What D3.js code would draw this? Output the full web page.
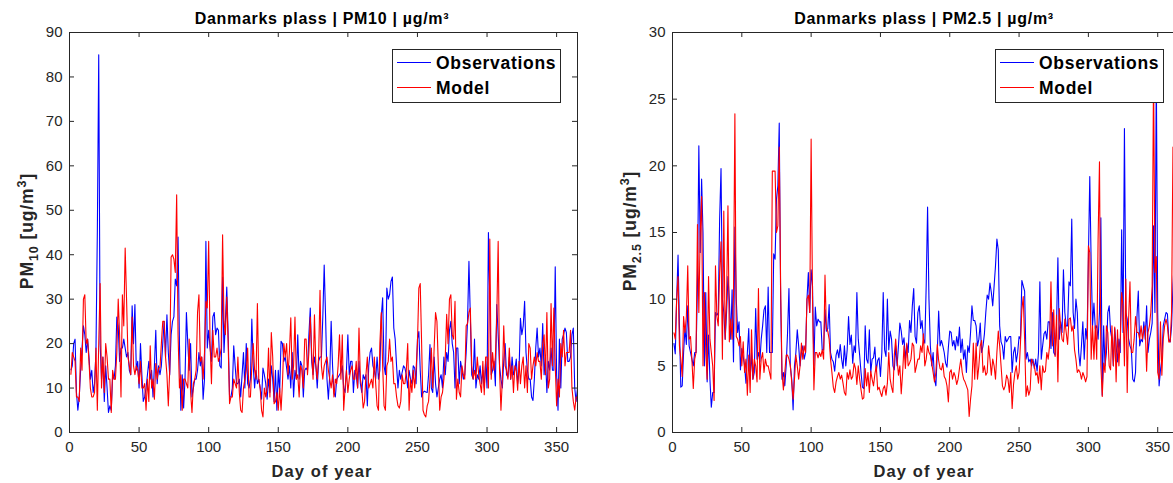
<!DOCTYPE html>
<html><head><meta charset="utf-8">
<script src="https://cdn.jsdelivr.net/npm/d3@7"></script>
<style>
body{margin:0;background:#fff;}
svg{display:block;font-family:"Liberation Sans",Arial,Helvetica,sans-serif;}
</style></head><body>
<svg id="chart" width="1173" height="483"></svg>
<script>
// ---------- data ----------
const xTicks = [0, 50, 100, 150, 200, 250, 300, 350];
const pm10Ticks = [0, 10, 20, 30, 40, 50, 60, 70, 80, 90];
const pm25Ticks = [0, 5, 10, 15, 20, 25, 30];
const seriesNames = ["Observations", "Model"];
const seriesColors = ["#0000ff", "#ff0000"];

const pm10Obs = [
14,15,20,21,9,5,8,14,19,24,
22,18,21,17,12,14,9,11,18,45,
85,20,12,17,7,15,10,4.5,6,5,
13,12,15,26,24,16,19,19,21,19,
17,18,14,13,28.5,20,28.8,14,16,10,
20,13,7,8,10,13,16,12,14,8,
15,23,11,15,13,15,20,25,17,26.5,
18,13,22,25,26,34.5,33,44,20,5,
13,5.5,12,27,20,14,20,8,10,12,
12,14,18,15,17,7.5,12,43,19,23,
19,16,26,27,22,23.5,23,15,14.5,35,
18,25,32.7,22,8,8,10,19.5,15,11,
11,12,8,13,18,10,20,11,10,12,
25.5,15,10,14,11,12,10,7.5,14.5,13,
11,7.5,12,9,15,12,7,14,5,14,
9,20.5,20,16,17,14.5,12,15,10,18,
8,14,12,22,12,16,15,8,14,14.5,
14,22,28,16,13,17,15,10,16,17,
17,26,37.7,26,12,7.5,13,25,15,9,
8,12,12.5,13,13.5,15,10,9,14,22,
13,16,16,9,14,13,10,16,11,9,
13,12,13,6,15,18,19,15,14,12,
17,12,14,26,30.3,15,13,32.5,30,31,
34,35,23.5,21,15,10,14,12,13.5,15,
14.5,13,10,14,12,11,15,14.5,11,21,
22.7,14,8,9,9.3,9.1,9,13,19.8,10,
9,17,11,8,10,12,13,10,17,13,
18,16,23,25,20,18,10,19,19,11,
16,14,12,13,18,25,38.5,26,13,12,
21,10,13,12,15,11,14,10,16,10,
45,30,13,14,16,10.5,28.8,22,15,12,
10,16,20,13,12.5,17,12,17,13,14,
16.5,11,14,25.7,22,24,29.5,18,14,12,
12,8,7.2,12,19,23.5,17,19,15,24.5,
13,17,9,16,14,19,14,14,37.3,13,
5,21,10,21,22,23.5,22.5,16,16,17,
22,23.5,10,7,10
];

const pm10Mod = [
13,18,17,16,8,8,7,19,14,30,
31,20,21,16,10,8,8,9,19,5,
20,33.5,10,17,9,20,17,12,12,4.5,
14,12,12,18,30,22,8,31,24,41.5,
30,17,15,13,26,15,13,15,14,11,
16,10,10,11,5,12,7,19.5,10,12,
7.5,15.5,12,14.5,14.5,20,25,25,17,13,
6,14,39.5,40,39,36,53.5,22,10,13,
5,12,12,11,10,21,9,4.5,11,12,
14,27,31,16,17,12,18,29.5,28,43,
20,11,23,17,17,19,16,17,19,44.5,
25,22,30.5,20,6.5,8,8,12,11,10,
17,9,5,4.5,10,12,14,19,8,8,
15,20,14,12,29,12,10,5,3.5,10,
8,10,19,8,22.5,17,6.5,7,9,5,
10,5,11,20,17,20,13,18,25.8,12,
15,26,12,13,8,15,14,10,21,21,
13,18,26,18,12,26.5,15,12,17,32,
15,12,15,16,17,14,12,10,13,8,
12,11,15,22,12,22,5,10,14,9,
12,14,15,12,12,16,10,23.5,12,10,
5.5,7,13,17,10,11,12,10,17,11,
6,5,20,27,15,6,5,15,16,21,
16,17,11,11,8,6,5.5,7,13,11,
11,14,20,5,12,9,14,10,14,20,
32.5,33.5,20,5,4,3.5,6,7,12,19,
10,19,27,25,15,5,8,9,12,17,
26.6,20,30,31,22,21,29.5,7.5,12,9,
8,15,13,12,24,24.5,27,28,15,12,
14,12,17,13,11,9,16,8.5,17,17,
10,43.5,12,18,14,17,26,43,14,5,
12,24,15,14,12,19,12,15,9,15,
14,9.5,16,11,15,17,10,15,9,20,
19,12,15,17,15,18,16,16,12,20,
22,13,27,10,12,29,15,28,15,6,
12,8,20,17,23,15,18,18,18,23,
10,7,5,8,8
];

const pm25Obs = [
6.7,5.9,10,13.3,8,3.4,3.5,6,7.8,6.6,
9.5,6.5,6,5.5,5,6,6,11,21.5,13.5,
19,15,5,10.5,3.8,7.3,4,1.9,3,3,
9,8.8,9,16,19.8,10,9,7,9,11.7,
10,7,10.7,5.3,15.4,10,7.5,8.3,4.7,6.3,
5.7,5,3.7,6,7.8,4,6,4,4.5,9.3,
5.5,6,5.3,7,8,9.2,9.5,6,10.9,6,
6,6,13.4,13,17.5,18.5,23.2,10,4,4.5,
3.5,5,7.5,10.8,5,4,1.7,5,6,7.7,
6.5,5,6,6.5,5.5,6,10,12,9,12.2,
11,5,9.4,8,8.5,8.3,8.3,6.2,6.2,9.2,
7.6,7.8,9.6,6,5.5,5.3,4.6,5.8,6.2,5.6,
6.6,5.5,4.8,6.5,5,6.2,8.7,6.6,7.3,5.2,
6.5,6,10.5,7,5.8,4.5,3.4,3.3,8,5.5,
5.2,7.7,4.5,5.5,5.6,6.4,4.6,5.4,5.6,4.2,
6,10.5,6.2,5.7,10,6.2,7.6,7,5,4.7,
6.5,5,6.5,8.2,7.6,6.6,7.1,5.5,6.6,6,
8.4,7.5,9.5,10.8,7.2,6.7,9,9.5,7.8,8.4,
7,6.7,11,16.9,10,6.5,5,6,4,3.5,
6,9.1,6.5,6.9,6.5,6,5.2,4.9,6.4,7.6,
7.5,6.5,6.9,6.2,7.2,6.5,7.9,6,7,5.5,
6.2,4.5,6.5,6,7.5,9.5,8.4,8.4,8,6.5,
7,8.2,6,6.5,7.4,9,10.3,10,11.2,10.5,
9.5,11,12.5,14.5,13.7,8,6.8,6.5,5.5,7.2,
6.8,7,7.2,7.2,4.5,6,6.4,5.3,6,7.2,
7,11.4,11,10.6,5.5,6,5.3,5.5,5,5.5,
4.8,5.5,4.6,6,11.3,5.5,6.5,7.4,7.6,7,
8.3,8.3,6.3,9,6,5.8,8,13.1,7,8.3,
7.5,12.2,9,8,8,11.3,11,16,9,7.8,
10,9,6,5,6.5,8.3,5.5,7.8,7,13,
19.2,12.7,8,9.7,7.8,8,7,9,16.1,2.8,
8,5,6,9,9.5,7.6,7,5,7.8,6.5,
5.3,7,6,15.2,7.5,22.8,9,8.5,7,6.5,
6.2,4,3.8,4.5,8.6,10.6,6.5,7,6.8,8.3,
7,9.5,6,7,7.5,8.2,15.5,9,27,9,
3.5,4.7,5.5,8,8.5,9,8.9,7,6.8,8,
11,13,12,11,10
];

const pm25Mod = [
7.5,7,10,11.7,6.5,5.5,4.2,8.7,7.5,8.7,
12.5,7,7.2,5.5,3.3,5.5,6,15.6,9,15,
17.7,5,10.5,6,4,11.7,7,6,5,2.4,
12.5,8.7,8,12,14.3,5.5,16.6,7,10,17,
6.8,8.5,7,10.3,23.9,7.2,7,6.5,7.2,5,
6.8,4.5,5.5,2.8,5.8,3,7.7,4,5.5,5,
3.8,10.8,4,5.5,6,4.5,5.5,5,5,4.5,
4,19.6,19.6,19.6,15,15.5,21.4,11,4.5,3.2,
4.5,5.8,5.8,5.5,5,3.8,2.5,4,5.8,5,
4,5,6.7,5.5,6.5,6,10,10.3,9,22,
10,3.2,6,6,5.6,6,5.7,6.2,5.5,11.8,
7.8,7.6,7,5.5,4.5,3.4,3,3.8,4.2,4.5,
4,4.3,3.7,3,2.8,4.5,4,4.7,4,4.2,
5.2,4.8,3.6,5,4,3.2,2.5,2.6,4.8,3.5,
4.5,3,4.6,4,3.5,4.4,5,3.2,3.4,3,
2.7,3.3,3.5,2.8,3.7,6,4,3.4,3,5.8,
7,5.5,4.3,5,2.9,4.5,6.5,4.8,6.7,5,
5.2,5.5,6.7,6.5,4.5,5,5.5,5.5,6.5,6,
7.4,5,5.5,6.5,6,5.8,5.2,4.5,3.8,4.5,
6.6,5.4,4.8,4.7,5.2,4.2,4,3.5,2.3,4.5,
4.7,4,4.5,4.2,3.6,4,4.8,5.5,4.5,4,
3.8,3.5,3.2,1.2,2.5,3.5,6.7,4,6.7,4,
5,6.5,6.9,4.5,5,4.3,4.5,6.5,5.5,4.3,
5.5,5,4,6,7.6,6.5,5,3.5,3.2,3.5,
4.3,4,3,4.5,1.8,3.6,4.5,5,4,4.5,
6.7,9.2,10.2,7,2.7,3.5,2.8,3.2,5.5,5.3,
5,4.3,4.5,3.7,5,3.2,5,4.5,4.6,6,
5.5,6.5,11.3,6.5,9.2,5.7,8.8,3.8,9.3,8,
7,6.8,8.5,7.5,6.6,8.5,8.6,7.6,8,6.2,
5.5,4.5,4.7,4.5,4,4.5,4.2,3.8,4.2,14,
13.5,5.5,8,5.5,8,5.5,14.5,20.3,5,2.7,
5.2,4.5,8,7.5,5,4.7,8,5,7.9,3.8,
7.7,5,7,10.5,9.5,5,11.5,3,8.5,11.3,
6,6,7,8.7,7.5,7.5,7,8,7,7.7,
8,4.6,7.5,8,9,11,27,12,13.2,4.5,
4,8.3,4.3,7,8,8.5,8,6.8,6.8,9,
21.4,12,10,9,9
];

// ---------- drawing ----------
const FONT = '"Liberation Sans", Arial, Helvetica, sans-serif';
const AX = "#262626";
const yTop = 32, yBot = 432;

const panels = [
  {x0: 69, x1: 577, yMax: 90, ticks: pm10Ticks, obs: pm10Obs, mod: pm10Mod,
   title: "Danmarks plass | PM10 | µg/m³", sub: "10"},
  {x0: 672, x1: 1178, yMax: 30, ticks: pm25Ticks, obs: pm25Obs, mod: pm25Mod,
   title: "Danmarks plass | PM2.5 | µg/m³", sub: "2.5"}
];

const svg = d3.select("#chart");

panels.forEach(p => {
  const g = svg.append("g");
  const x = d3.scaleLinear().domain([0, 365]).range([p.x0, p.x1]);
  const y = d3.scaleLinear().domain([0, p.yMax]).range([yBot, yTop]);

  // series lines
  [p.obs, p.mod].forEach((vals, si) => {
    const line = d3.line().x((d, i) => x(i + 1) + 0.5).y(d => y(d) + 0.5);
    g.append("path").datum(vals)
      .attr("d", line).attr("fill", "none")
      .attr("stroke", seriesColors[si]).attr("stroke-width", 1.1)
      .attr("stroke-linejoin", "round");
  });

  // axes
  const styleAxis = sel => {
    sel.attr("font-family", FONT).attr("font-size", 15).style("color", AX);
    sel.select(".domain").remove();
    sel.selectAll("text").attr("fill", AX);
  };
  g.append("g").attr("transform", `translate(0,${yBot})`)
    .call(d3.axisBottom(x).tickValues(xTicks).tickSizeInner(-5).tickSizeOuter(0).tickPadding(9.5))
    .call(styleAxis);
  g.append("g").attr("transform", `translate(0,${yTop})`)
    .call(d3.axisTop(x).tickValues(xTicks).tickSizeInner(-5).tickSizeOuter(0).tickFormat(() => ""))
    .call(styleAxis);
  g.append("g").attr("transform", `translate(${p.x0},0)`)
    .call(d3.axisLeft(y).tickValues(p.ticks).tickSizeInner(-5).tickSizeOuter(0).tickPadding(6.5))
    .call(styleAxis);
  g.append("g").attr("transform", `translate(${p.x1},0)`)
    .call(d3.axisRight(y).tickValues(p.ticks).tickSizeInner(-5).tickSizeOuter(0).tickFormat(() => ""))
    .call(styleAxis);

  // box
  g.append("rect")
    .attr("x", p.x0 + 0.5).attr("y", yTop + 0.5)
    .attr("width", p.x1 - p.x0).attr("height", yBot - yTop)
    .attr("fill", "none").attr("stroke", AX).attr("stroke-width", 1);

  const cx = (p.x0 + p.x1) / 2;
  // title
  g.append("text").attr("x", cx - 1).attr("y", 23.5)
    .attr("text-anchor", "middle").attr("font-weight", "bold")
    .attr("font-size", 16).attr("letter-spacing", 0.7).attr("fill", "#000")
    .text(p.title);
  // x label
  g.append("text").attr("x", cx - 1).attr("y", 477)
    .attr("text-anchor", "middle").attr("font-weight", "bold")
    .attr("font-size", 16.5).attr("letter-spacing", 1.1).attr("fill", AX)
    .text("Day of year");
  // y label
  const yl = g.append("text")
    .attr("transform", `translate(${p.x0 - 36},${(yTop + yBot) / 2 - 1}) rotate(-90)`)
    .attr("text-anchor", "middle").attr("font-weight", "bold")
    .attr("font-size", 17.5).attr("letter-spacing", 0.9).attr("fill", AX);
  yl.append("tspan").text("PM");
  yl.append("tspan").attr("font-size", 12.5).attr("dy", 5).text(p.sub);
  yl.append("tspan").attr("dy", -5).text(" [ug/m");
  yl.append("tspan").attr("font-size", 12.5).attr("dy", -7).text("3");
  yl.append("tspan").attr("dy", 7).text("]");

  // legend
  const lg = g.append("g").attr("transform", `translate(${p.x0 + 323},49)`);
  lg.append("rect").attr("x", 0.5).attr("y", 0.5).attr("width", 168).attr("height", 53)
    .attr("fill", "#fff").attr("stroke", AX).attr("stroke-width", 1);
  seriesNames.forEach((name, i) => {
    const ly = 13.5 + i * 25;
    lg.append("line").attr("x1", 5).attr("x2", 39).attr("y1", ly).attr("y2", ly)
      .attr("stroke", seriesColors[i]).attr("stroke-width", 1);
    lg.append("text").attr("x", 44).attr("y", 20 + i * 25)
      .attr("font-weight", "bold").attr("font-size", 17.5).attr("letter-spacing", 0.7)
      .attr("fill", "#000").text(name);
  });
});
</script>
</body></html>
